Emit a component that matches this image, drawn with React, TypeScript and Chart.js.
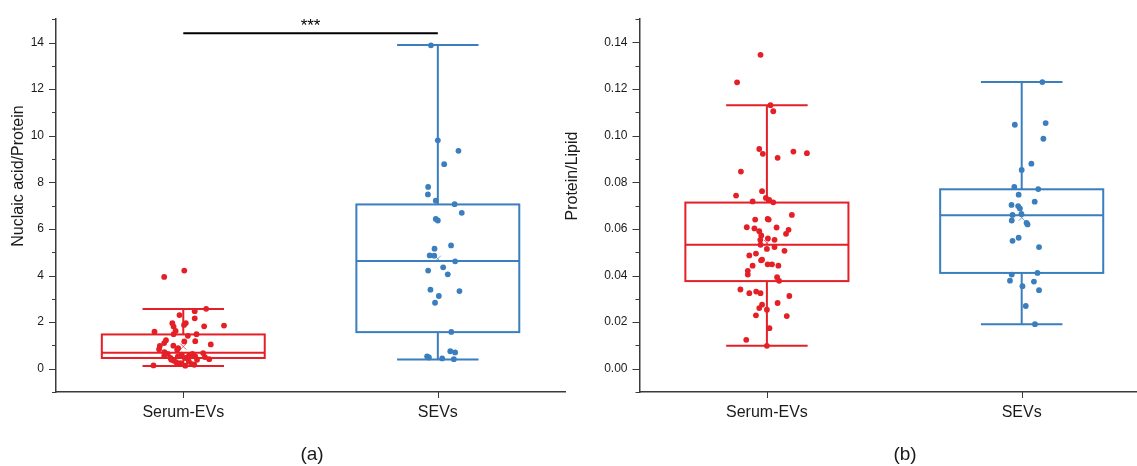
import React, { useEffect, useRef } from 'react';
import { Chart, registerables } from 'chart.js';

Chart.register(...registerables);

const FONT = '"Liberation Sans", Arial, Helvetica, sans-serif';
Chart.defaults.font.family = FONT;

// ---------- shared ----------
const categories = ['Serum-EVs', 'SEVs'];
const RED = '#E41F26';
const BLUE = '#3A7EBE';

// ---------- panel (a): Nuclaic acid/Protein ----------
const aSerumValues = [4.21, 3.94, 2.57, 2.47, 2.30, 2.16, 1.95, 1.96, 1.88, 1.81, 1.82, 1.85, 1.59, 1.62, 1.48, 1.48, 1.41, 1.22, 1.10, 1.17, 1.18, 1.04, 0.98, 0.84, 0.99, 0.88, 0.81, 0.71, 0.64, 0.55, 0.46, 0.34, 0.53, 0.60, 0.46, 0.55, 0.63, 0.53, 0.67, 0.50, 0.41, 0.38, 0.24, 0.13, 0.20, 0.17, 0.14, 0.27, 0.31, 0.38];
const aSerumJitter = [0.004, -0.075, 0.09, 0.045, -0.015, 0.045, -0.043, 0.01, 0.003, -0.038, 0.082, 0.16, -0.113, -0.03, -0.038, 0.052, 0.018, -0.068, -0.075, 0.004, 0.047, 0.108, -0.092, -0.095, -0.039, -0.02, -0.024, -0.074, -0.061, -0.075, -0.05, -0.036, -0.021, -0.006, 0.008, 0.022, 0.036, 0.047, 0.078, 0.085, 0.102, -0.047, -0.011, 0.008, 0.034, 0.043, -0.117, -0.027, 0.022, 0.054];
const aSevValues = [13.88, 9.80, 9.35, 8.78, 7.80, 7.48, 7.21, 7.06, 6.69, 6.43, 6.36, 5.29, 5.15, 4.86, 4.85, 4.61, 4.35, 4.21, 4.05, 3.39, 3.33, 3.12, 2.83, 1.58, 0.75, 0.70, 0.53, 0.48, 0.44, 0.41];
const aSevJitter = [-0.027, 0, 0.081, 0.025, -0.038, -0.039, -0.008, 0.066, 0.094, -0.008, 0, 0.052, -0.013, -0.032, -0.014, 0.068, 0.021, -0.038, 0.039, -0.029, 0.085, 0.004, -0.011, 0.053, 0.049, 0.068, -0.042, -0.035, 0.017, 0.063];
// [lower whisker, Q1, median, Q3, upper whisker]
const aSerumBox = [0.12, 0.46, 0.68, 1.47, 2.56];
const aSevBox = [0.40, 1.57, 4.62, 7.05, 13.89];
const aMeans = [0.95, 4.72];
const aYRange = [-1, 15];
const aYStep = 1;
const aSignifY = 14.4;
const aSignifText = '***';
const aTitle = 'Nuclaic acid/Protein';
const aPanelLabel = '(a)';

// ---------- panel (b): Protein/Lipid ----------
const bSerumValues = [0.1347, 0.1229, 0.1131, 0.1105, 0.0943, 0.0922, 0.0905, 0.0932, 0.0925, 0.0846, 0.0762, 0.0743, 0.0718, 0.0733, 0.0725, 0.0714, 0.0660, 0.0640, 0.0643, 0.0640, 0.0607, 0.0602, 0.0606, 0.0596, 0.0579, 0.0590, 0.0572, 0.0559, 0.0553, 0.0553, 0.0532, 0.0522, 0.0514, 0.0506, 0.0494, 0.0486, 0.0468, 0.0465, 0.0442, 0.0448, 0.0448, 0.0442, 0.0420, 0.0404, 0.0393, 0.0377, 0.0340, 0.0324, 0.0331, 0.0324, 0.0312, 0.0282, 0.0275, 0.0260, 0.0253, 0.0229, 0.0226, 0.0174, 0.0124, 0.0098];
const bSerumJitter = [-0.025, -0.117, 0.014, 0.025, -0.030, -0.016, 0.042, 0.104, 0.157, -0.102, -0.019, -0.121, -0.056, -0.004, 0.009, 0.025, 0.098, -0.046, 0.003, 0.007, -0.079, -0.049, 0.038, 0.085, 0.075, -0.030, -0.022, 0.004, 0.030, -0.026, -0.025, 0.030, 0, 0.069, -0.043, -0.069, -0.019, -0.023, -0.056, 0.003, 0.020, 0.045, -0.075, -0.075, 0.040, 0.048, -0.104, -0.069, -0.042, -0.025, 0.088, 0.042, -0.019, -0.030, 0, -0.043, 0.078, 0.010, -0.081, 0];
const bSevValues = [0.1230, 0.1047, 0.1054, 0.0987, 0.0880, 0.0853, 0.0780, 0.0771, 0.0747, 0.0717, 0.0703, 0.0698, 0.0688, 0.0660, 0.0664, 0.0636, 0.0626, 0.0619, 0.0562, 0.0549, 0.0522, 0.0411, 0.0404, 0.0378, 0.0374, 0.0354, 0.0337, 0.0269, 0.0191];
const bSevJitter = [0.081, -0.027, 0.094, 0.085, 0.038, 0, -0.029, 0.065, -0.012, 0.051, -0.040, -0.014, -0.007, -0.036, -0.001, -0.039, 0.019, 0.023, -0.012, -0.036, 0.068, 0.062, -0.039, -0.046, 0.048, 0.003, 0.068, 0.016, 0.052];
const bSerumBox = [0.0098, 0.0376, 0.0532, 0.0713, 0.1131];
const bSevBox = [0.0191, 0.0411, 0.0659, 0.0770, 0.1230];
const bMeans = [0.054, 0.0648];
const bYRange = [-0.01, 0.15];
const bYStep = 0.01;
const bTitle = 'Protein/Lipid';
const bPanelLabel = '(b)';

// ---------- styling constants ----------
const AXIS_COLOR = '#3a3a3a';
const TEXT_COLOR = '#1a1a1a';
const BOX_HALF = 0.32;
const CAP_HALF = 0.16;

type Series = { values: number[]; jitter: number[]; box: number[]; mean: number; color: string };
type Panel = {
  series: Series[];
  yMin: number; yMax: number; yStep: number; decimals: number;
  yAxisWidth: number;
  title: string; titleX: number;
  panelLabel: string; panelLabelX: number;
  signifY?: number; signifText?: string;
};

function boxPlugin(p: Panel) {
  return {
    id: 'boxes',
    beforeDatasetsDraw(chart: any) {
      const { ctx } = chart;
      const xs = chart.scales.x;
      const ys = chart.scales.y;
      ctx.save();
      p.series.forEach((s, i) => {
        const c = i + 1;
        const [lo, q1, med, q3, hi] = s.box;
        const xl = xs.getPixelForValue(c - BOX_HALF);
        const xr = xs.getPixelForValue(c + BOX_HALF);
        const cl = xs.getPixelForValue(c - CAP_HALF);
        const cr = xs.getPixelForValue(c + CAP_HALF);
        const xc = xs.getPixelForValue(c);
        ctx.strokeStyle = s.color;
        ctx.lineWidth = 2;
        ctx.strokeRect(xl, ys.getPixelForValue(q3), xr - xl, ys.getPixelForValue(q1) - ys.getPixelForValue(q3));
        ctx.beginPath();
        ctx.moveTo(xl, ys.getPixelForValue(med));
        ctx.lineTo(xr, ys.getPixelForValue(med));
        ctx.moveTo(xc, ys.getPixelForValue(q3));
        ctx.lineTo(xc, ys.getPixelForValue(hi));
        ctx.moveTo(xc, ys.getPixelForValue(q1));
        ctx.lineTo(xc, ys.getPixelForValue(lo));
        ctx.moveTo(cl, ys.getPixelForValue(hi));
        ctx.lineTo(cr, ys.getPixelForValue(hi));
        ctx.moveTo(cl, ys.getPixelForValue(lo));
        ctx.lineTo(cr, ys.getPixelForValue(lo));
        ctx.stroke();
        // mean marker
        const my = ys.getPixelForValue(s.mean);
        ctx.lineWidth = 1;
        ctx.globalAlpha = 0.7;
        ctx.beginPath();
        ctx.moveTo(xc - 3, my - 3); ctx.lineTo(xc + 3, my + 3);
        ctx.moveTo(xc + 3, my - 3); ctx.lineTo(xc - 3, my + 3);
        ctx.stroke();
        ctx.globalAlpha = 1;
      });
      ctx.restore();
    },
    afterDraw(chart: any) {
      const { ctx, chartArea } = chart;
      const xs = chart.scales.x;
      const ys = chart.scales.y;
      ctx.save();
      // y tick marks (major / minor) and category tick marks
      ctx.strokeStyle = AXIS_COLOR;
      ctx.lineWidth = 1;
      ctx.beginPath();
      ys.ticks.forEach((t: any) => {
        const py = Math.round(ys.getPixelForValue(t.value)) + 0.5;
        const len = t.label !== '' ? 7 : 4;
        ctx.moveTo(chartArea.left - len, py);
        ctx.lineTo(chartArea.left, py);
      });
      xs.ticks.forEach((t: any) => {
        const px = Math.round(xs.getPixelForValue(t.value)) + 0.5;
        ctx.moveTo(px, chartArea.bottom);
        ctx.lineTo(px, chartArea.bottom + 6);
      });
      ctx.stroke();
      // axis title
      ctx.fillStyle = TEXT_COLOR;
      ctx.font = `16px ${FONT}`;
      ctx.textAlign = 'center';
      ctx.textBaseline = 'middle';
      ctx.save();
      ctx.translate(p.titleX, 176);
      ctx.rotate(-Math.PI / 2);
      ctx.fillText(p.title, 0, 0);
      ctx.restore();
      // panel label
      ctx.font = `19px ${FONT}`;
      ctx.fillText(p.panelLabel, p.panelLabelX, 455);
      // significance bar
      if (p.signifY !== undefined) {
        const py = ys.getPixelForValue(p.signifY);
        ctx.strokeStyle = '#000';
        ctx.lineWidth = 2;
        ctx.beginPath();
        ctx.moveTo(xs.getPixelForValue(1), py);
        ctx.lineTo(xs.getPixelForValue(2), py);
        ctx.stroke();
        ctx.fillStyle = '#000';
        ctx.font = `17px ${FONT}`;
        ctx.textBaseline = 'alphabetic';
        ctx.fillText(p.signifText || '', (xs.getPixelForValue(1) + xs.getPixelForValue(2)) / 2, py - 2);
      }
      ctx.restore();
    },
  };
}

function makeConfig(p: Panel): any {
  return {
    type: 'scatter',
    data: {
      datasets: p.series.map((s, i) => ({
        data: s.values.map((v, j) => ({ x: i + 1 + s.jitter[j], y: v })),
        backgroundColor: s.color,
        borderColor: s.color,
        borderWidth: 0,
        pointRadius: 2.9,
        pointHoverRadius: 2.9,
      })),
    },
    options: {
      animation: false,
      responsive: false,
      events: [],
      layout: { padding: { top: 17, left: 0, right: 0, bottom: 0 } },
      plugins: { legend: { display: false }, tooltip: { enabled: false } },
      scales: {
        x: {
          type: 'linear',
          min: 0.5,
          max: 2.5,
          afterBuildTicks: (s: any) => {
            s.ticks = categories.map((_, i) => ({ value: i + 1 }));
          },
          afterFit: (s: any) => {
            s.height = 74;
          },
          grid: { display: false, drawTicks: false },
          border: { display: true, color: AXIS_COLOR, width: 1.5 },
          ticks: {
            autoSkip: false,
            maxRotation: 0,
            padding: 11,
            color: TEXT_COLOR,
            font: { size: 16, family: FONT },
            callback: (v: number) => categories[Math.round(v) - 1] ?? '',
          },
        },
        y: {
          type: 'linear',
          min: p.yMin,
          max: p.yMax,
          afterFit: (s: any) => {
            s.width = p.yAxisWidth;
          },
          grid: { display: false, drawTicks: false },
          border: { display: true, color: AXIS_COLOR, width: 1.5 },
          ticks: {
            stepSize: p.yStep,
            autoSkip: false,
            padding: 12,
            color: TEXT_COLOR,
            font: { size: 12, family: FONT },
            callback: (v: number) => {
              const k = Math.round(v / p.yStep);
              return k % 2 === 0 ? v.toFixed(p.decimals) : '';
            },
          },
        },
      },
    },
    plugins: [boxPlugin(p)],
  };
}

const panelA: Panel = {
  series: [
    { values: aSerumValues, jitter: aSerumJitter, box: aSerumBox, mean: aMeans[0], color: RED },
    { values: aSevValues, jitter: aSevJitter, box: aSevBox, mean: aMeans[1], color: BLUE },
  ],
  yMin: aYRange[0], yMax: aYRange[1], yStep: aYStep, decimals: 0,
  yAxisWidth: 56,
  title: aTitle, titleX: 19,
  panelLabel: aPanelLabel, panelLabelX: 312,
  signifY: aSignifY, signifText: aSignifText,
};

const RIGHT_LEFT = 540;

const panelB: Panel = {
  series: [
    { values: bSerumValues, jitter: bSerumJitter, box: bSerumBox, mean: bMeans[0], color: RED },
    { values: bSevValues, jitter: bSevJitter, box: bSevBox, mean: bMeans[1], color: BLUE },
  ],
  yMin: bYRange[0], yMax: bYRange[1], yStep: bYStep, decimals: 2,
  yAxisWidth: 639.5 - RIGHT_LEFT,
  title: bTitle, titleX: 573 - RIGHT_LEFT,
  panelLabel: bPanelLabel, panelLabelX: 905 - RIGHT_LEFT,
};

function ChartCanvas({ panel, left, width }: { panel: Panel; left: number; width: number }) {
  const ref = useRef<HTMLCanvasElement | null>(null);
  useEffect(() => {
    if (!ref.current) return;
    const chart = new Chart(ref.current, makeConfig(panel));
    return () => chart.destroy();
  }, [panel]);
  return (
    <canvas
      ref={ref}
      width={width}
      height={466}
      style={{ position: 'absolute', left, top: 0, width, height: 466 }}
    />
  );
}

export default function App() {
  return (
    <div
      style={{
        position: 'fixed',
        left: 0,
        top: 0,
        width: 1137,
        height: 466,
        overflow: 'hidden',
        background: '#fff',
      }}
    >
      <ChartCanvas panel={panelA} left={0} width={568} />
      <ChartCanvas panel={panelB} left={RIGHT_LEFT} width={1152 - RIGHT_LEFT} />
    </div>
  );
}
